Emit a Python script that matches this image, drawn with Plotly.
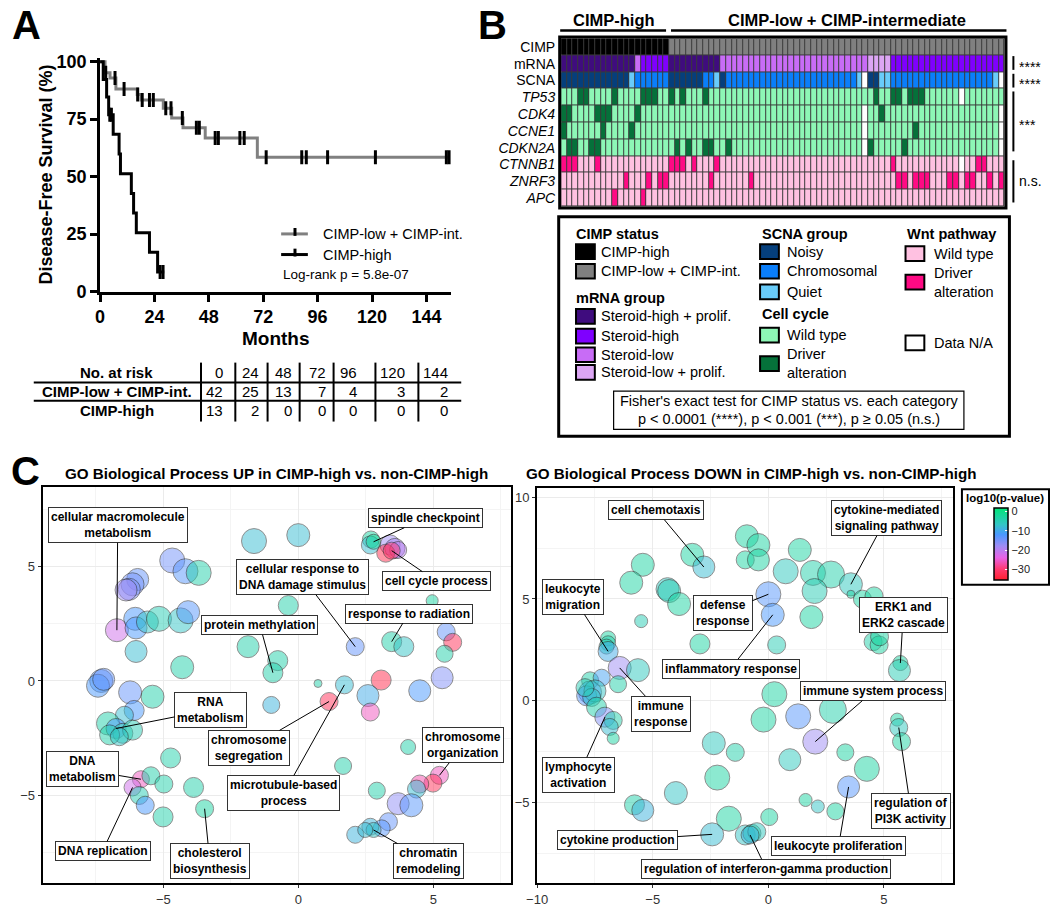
import plotly.graph_objects as go

W, H = 1050, 909
FONT = "Arial, Liberation Sans, sans-serif"


def fx(x):
    return x / W


def fy(y):
    return 1 - y / H


# ---------------- A: Kaplan-Meier data ----------------
low_t = [0, 2.2, 4.4, 7.0, 16.4, 18.1, 27.9, 31.6, 36.6, 46.4, 69.4, 154]
low_s = [100, 95.2, 92.9, 88.1, 85.7, 83.3, 79.8, 75.5, 71.3, 66.8, 58.4, 58.4]
low_cens = [2.5, 6.6, 10.6, 16.6, 18.6, 21.8, 23.5, 29.0, 31.3, 36.3, 42.5, 43.8,
            50.8, 52.2, 61.7, 63.6, 73.3, 89.0, 91.0, 100.4, 121.5, 152.8, 154.0]

high_t = [0, 1.4, 2.9, 3.8, 5.8, 8.4, 9.0, 13.8, 14.8, 16.0, 21.8, 25.4, 28.3]
high_s = [100, 92.3, 84.6, 76.9, 68.4, 59.8, 51.3, 42.7, 34.2, 25.6, 17.1, 8.5, 8.5]
high_cens = [4.3, 5.0, 26.5, 27.8]

risk_times = [0, 24, 48, 72, 96, 120, 144]
risk_low = [42, 25, 13, 7, 4, 3, 2]
risk_high = [13, 2, 0, 0, 0, 0, 0]

# ---------------- B: oncoprint rows (78 samples) ----------------
row_names = ["CIMP", "mRNA", "SCNA", "<i>TP53</i>", "<i>CDK4</i>", "<i>CCNE1</i>",
             "<i>CDKN2A</i>", "<i>CTNNB1</i>", "<i>ZNRF3</i>", "<i>APC</i>"]
cimp_row = ("HHHHHHHHHH" "HHHHHHHHHL" "LLLLLLLLLL" "LLLLLLLLLL"
            "LLLLLLLLLL" "LLLLLLLLLL" "LLLLLLLLLL" "LLLLLLLL")
mrna_row = ("PPPPPPPPPP" "PPPLHHHHHP" "PPPPPPPPLL" "LLLLLLLLLL"
            "LLLLLLLLLL" "LLLLQQQQHH" "HHHHHHHHHH" "HHHHHHHH")
scna_row = ("NNNNNNNNNN" "NNQCCCCCCN" "NNNNNCCQNC" "CCCCCCCCCC"
            "CCCCCCCCCC" "CCQXNNQQCC" "CCCCCCCCCC" "CCCCCCQX")
tp53_row = ("WWWDDWWWWD" "WWWWDDDWWD" "WDWWWDWWWW" "WWWWWWWWWW"
            "WWWWWWWWWW" "WWWWWDWWDD" "WDDDWWWWWW" "XWWWWWWW")
cdk4_row = ("DDWWWWDDDW" "WWWDWWWWWW" "WWWWWWWWWW" "WWWWWWWWWW"
            "WWWWWWWWWW" "WWWXWWDWWW" "WWWWWWWWWW" "WWWWWWWX")
ccne1_row = ("DWWWWWWDWW" "WWDWWWWWWW" "WWWWWWWWWW" "WWWWWWWWWW"
             "WWWWWWWWWW" "WWWXWWWWWW" "WWDWWWWWWW" "WWWWWWWX")
cdkn2a_row = ("WDDWWDDWWW" "WWWWWWWWWW" "DWDWWDDWWD" "WWWWWWWWWW"
              "WWWWWWWWWW" "WWWXDWWWWW" "DWWWWWWWWW" "WWWWWWWX")
ctnnb1_row = ("DDDWWWDWWW" "WWWWWWWWWD" "DDWDWWWDWW" "WWWWWWWWWW"
              "WWWWWWWWWW" "WWWWWWWWDW" "WWWWWWWWWW" "XWWDDWWW")
znrf3_row = ("WWWWWWWWWW" "WDWWWDWDDW" "WWWWWWDWWW" "WWWDWWWWWW"
             "WWWWWWWWWW" "WWWWWWWWWD" "DWDDDWWWDD" "WDDWWDWD")
apc_row = ("WWWWWWWWWD" "WWWWDWWWWW" "WWWWWWWWWW" "WWWWWWWWWW"
           "WWWWWWWWWW" "WWWWWWWWWW" "WWWWWWWWWW" "WWWWWWWW")

cimp_col = {"H": "#000000", "L": "#808080"}
mrna_col = {"P": "#3F0C7E", "H": "#7F00FF", "L": "#C86CF6", "Q": "#DCA6F4"}
scna_col = {"N": "#053F7C", "C": "#0A7EFA", "Q": "#69CCFA", "X": "#FFFFFF"}
cc_col = {"W": "#8DF7B6", "D": "#05713A", "X": "#FFFFFF"}
wnt_col = {"W": "#FFC1E1", "D": "#FF0A84", "X": "#FFFFFF"}

rows = [(cimp_row, cimp_col), (mrna_row, mrna_col), (scna_row, scna_col),
        (tp53_row, cc_col), (cdk4_row, cc_col), (ccne1_row, cc_col),
        (cdkn2a_row, cc_col), (ctnnb1_row, wnt_col), (znrf3_row, wnt_col),
        (apc_row, wnt_col)]

# legend groups of panel B
leg_cimp = [("CIMP-high", "#000000"), ("CIMP-low + CIMP-int.", "#808080")]
leg_mrna = [("Steroid-high + prolif.", "#3F0C7E"), ("Steroid-high", "#7F00FF"),
            ("Steroid-low", "#C86CF6"), ("Steroid-low + prolif.", "#DCA6F4")]
leg_scna = [("Noisy", "#053F7C"), ("Chromosomal", "#0A7EFA"), ("Quiet", "#69CCFA")]
leg_cc = [("Wild type", "#8DF7B6"), ("Driver<br>alteration", "#05713A")]
leg_wnt = [("Wild type", "#FFC1E1"), ("Driver<br>alteration", "#FF0A84")]

# ---------------- C: GO term bubbles ----------------
up_x = [-1.64, -4.67, -4.18, -3.69, -5.95, -6.14, -6.26, -6.38, -6.72, -6.04,
        -6.01, -5.59, -5.16, -4.36, -4.08, -6.01, -4.30, -1.86, -1.00, -7.30,
        -7.42, -7.21, -6.23, -5.40, -6.08, -6.44, -7.05, -6.75, -6.50, -6.99,
        -6.14, -6.63, -4.73, -5.83, -5.46, -4.98, -6.14, -5.89, -5.67, -5.01,
        -3.88, -3.47, 0.00, -0.37, -0.76, -0.94, 2.69, 2.67, 2.79, 3.40,
        3.58, 3.70, 3.24, 3.46, 4.96, 2.11, 3.46, 3.91, 5.48, 5.72,
        5.42, 5.33, 4.50, 3.07, 2.58, 2.67, 1.71, 0.73, 1.14, 4.07,
        1.66, 2.91, 5.23, 4.99, 4.50, 4.38, 3.70, 4.19, 3.34, 3.09,
        2.67, 2.11, 2.79, 2.48]
up_y = [6.12, 5.27, 4.80, 4.73, 4.44, 4.23, 4.01, 3.98, 2.22, 2.72,
        2.32, 2.58, 2.72, 2.65, 3.01, 1.29, 0.60, 1.50, -1.05, 0.00,
        -0.21, 0.07, -0.50, -0.69, -1.29, -1.50, -1.86, -2.08, -2.29, -2.36,
        -2.15, -2.44, -3.37, -4.30, -4.15, -4.51, -4.66, -5.01, -5.44, -5.95,
        -4.66, -5.59, 6.38, 3.30, 0.89, 0.36, 6.19, 5.95, 6.09, 5.95,
        5.80, 5.73, 5.59, 5.70, 3.51, 1.50, 1.72, 1.50, 2.15, 1.69,
        1.19, 0.14, -0.43, 0.04, -0.64, -1.36, -0.17, -0.11, -0.90, -2.89,
        -3.72, -4.80, -4.13, -4.47, -4.51, -4.73, -5.37, -5.44, -6.16, -6.45,
        -6.38, -6.73, -6.52, -6.52]
up_size = [25, 25, 25, 25, 22, 23, 22, 22, 23, 23,
           22, 22, 25, 25, 23, 22, 23, 22, 17, 23,
           23, 22, 23, 23, 20, 18, 23, 20, 20, 20,
           20, 18, 20, 17, 18, 18, 17, 18, 18, 20,
           20, 18, 23, 20, 20, 20, 17, 18, 15, 20,
           20, 17, 18, 17, 12, 18, 20, 20, 18, 18,
           17, 22, 22, 20, 22, 18, 18, 8, 18, 15,
           17, 17, 18, 18, 18, 18, 22, 23, 18, 17,
           17, 17, 15, 15]
up_logp = [-8, -15, -13, -4, -14, -15, -16, -18, -22, -12,
           -12, -7, -5, -7, -13, -8, -4, -4, -9, -13,
           -12, -14, -14, -4, -12, -8, -4, -12, -5, -4,
           -5, -7, -4, -26, -4, -4, -22, -5, -12, -4,
           -4, -3, -8, -4, -4, -4, -3, -8, -2, -18,
           -19, -20, -33, -30, -3, -14, -4, -7, -14, -32,
           -4, -16, -12, -33, -10, -26, -8, -4, -32, -4,
           -4, -4, -26, -32, -27, -8, -17, -13, -14, -13,
           -9, -9, -7, -8]
up_terms = [("cellular macromolecule<br>metabolism", 8, -6.69, 6.81),
            ("cellular response to<br>DNA damage stimulus", 55, 0.16, 4.54),
            ("spindle checkpoint", 48, 4.70, 7.12),
            ("cell cycle process", 53, 5.11, 4.37),
            ("protein methylation", 45, -1.42, 2.44),
            ("response to radiation", 56, 4.09, 2.95),
            ("RNA<br>metabolism", 27, -3.24, -1.26),
            ("chromosome<br>segregation", 68, -1.81, -2.93),
            ("microtubule-based<br>process", 66, -0.53, -4.91),
            ("chromosome<br>organization", 72, 6.10, -2.81),
            ("chromatin<br>remodeling", 82, 4.82, -7.88),
            ("DNA<br>metabolism", 33, -7.98, -3.87),
            ("DNA replication", 36, -7.25, -7.44),
            ("cholesterol<br>biosynthesis", 41, -3.28, -7.88)]

dn_x = [-3.29, -2.79, -5.43, -5.93, -4.36, -4.29, -3.86, -5.50, -2.96, -6.93,
        -6.93, -7.00, -6.93, -6.43, -5.64, -6.50, -7.71, -7.21, -7.71, -7.86,
        -7.50, -7.64, -7.43, -7.07, -6.71, -6.86, -6.71, -7.93, -0.93, -0.43,
        -1.00, -0.43, 0.75, 0.00, 0.19, 0.36, 0.26, -0.21, -2.36, -1.43,
        -2.21, -4.00, -5.79, -5.43, -1.71, -2.43, 0.04, -1.00, -0.71, -0.50,
        -0.79, 0.93, 1.36, 1.93, 2.71, 2.00, 1.86, 3.57, 3.57, 4.07,
        4.57, 4.53, 4.79, 4.81, 5.71, 5.67, 2.79, 1.29, 2.03, 3.33,
        4.26, 3.47, 1.61, 2.14, 2.90, 5.57, 5.64, 5.76]
dn_y = [7.17, 6.57, 6.68, 5.80, 5.48, 5.39, 4.75, 3.91, 2.79, 3.06,
        2.82, 2.66, 2.42, 1.61, 1.50, 0.81, 1.00, 1.13, 0.40, 0.24,
        0.48, 0.16, -0.32, -0.81, -0.97, -1.29, -1.85, 0.64, 8.08, 7.65,
        6.92, 6.92, 6.36, 5.23, 4.22, 2.74, 0.32, -0.93, -2.09, -2.54,
        -3.78, -4.54, -5.12, -5.39, -5.80, -6.57, -5.72, -6.60, -6.52, -6.44,
        -6.60, -2.90, 7.41, 6.28, 6.20, 5.39, 4.11, 5.72, 5.23, 4.99,
        5.15, 2.90, 2.74, 3.14, 1.85, 1.48, -0.45, -0.77, -2.01, -2.54,
        -3.35, -4.24, -4.88, -5.20, -5.44, -0.93, -1.32, -2.01]
dn_size = [23, 22, 23, 23, 23, 23, 23, 13, 20, 15,
           15, 15, 20, 23, 23, 17, 17, 17, 23, 20,
           22, 18, 20, 20, 18, 17, 12, 18, 23, 23,
           18, 22, 25, 25, 23, 18, 25, 25, 23, 18,
           25, 23, 20, 22, 25, 23, 17, 20, 18, 18,
           18, 22, 23, 25, 27, 25, 23, 23, 8, 18,
           18, 18, 18, 18, 15, 22, 27, 25, 25, 17,
           25, 22, 13, 13, 17, 13, 18, 18]
dn_logp = [-3, -8, -3, -3, -6, -5, -3, -5, -3, -3,
           -4, -5, -10, -18, -6, -4, -4, -11, -12, -13,
           -7, -7, -4, -16, -4, -8, -3, -5, -3, -3,
           -3, -3, -6, -13, -12, -5, -3, -3, -6, -4,
           -3, -7, -4, -9, -3, -8, -3, -7, -4, -6,
           -9, -6, -3, -4, -4, -5, -3, -6, -3, -3,
           -3, -4, -3, -3, -3, -5, -4, -13, -18, -3,
           -3, -13, -3, -7, -3, -3, -6, -3]
dn_terms = [("cell chemotaxis", 1, -4.84, 9.36),
            ("cytokine-mediated<br>signaling pathway", 57, 5.10, 8.97),
            ("leukocyte<br>migration", 12, -8.44, 5.10),
            ("defense<br>response", 33, -1.97, 4.33),
            ("inflammatory response", 34, -1.63, 1.58),
            ("ERK1 and<br>ERK2 cascade", 64, 5.83, 4.19),
            ("immune<br>response", 13, -4.63, -0.64),
            ("immune system process", 68, 4.54, 0.47),
            ("lymphocyte<br>activation", 23, -8.19, -3.64),
            ("regulation of<br>PI3K activity", 76, 6.17, -5.42),
            ("cytokine production", 45, -6.52, -6.87),
            ("leukocyte proliferation", 71, 3.04, -7.12),
            ("regulation of interferon-gamma production", 50, -0.09, -8.27)]

pval_scale = [[0.0, "#FF2030"], [0.15, "#FF3A70"], [0.31, "#E862E6"],
              [0.47, "#A08CF5"], [0.63, "#4A98FF"], [0.77, "#33C6C6"],
              [1.0, "#00E676"]]

fig = go.Figure()

# ---- A traces ----
fig.add_trace(go.Scatter(x=low_t, y=low_s, mode="lines", line=dict(color="#808080", width=3, shape="hv"),
                         xaxis="x", yaxis="y", showlegend=False, hoverinfo="skip"))
fig.add_trace(go.Scatter(x=high_t, y=high_s, mode="lines", line=dict(color="black", width=3, shape="hv"),
                         xaxis="x", yaxis="y", showlegend=False, hoverinfo="skip"))


def surv_at(ts, ss, t):
    s = ss[0]
    for ti, si in zip(ts, ss):
        if ti <= t:
            s = si
    return s


for cens, ts, ss in [(low_cens, low_t, low_s), (high_cens, high_t, high_s)]:
    fig.add_trace(go.Scatter(x=cens, y=[surv_at(ts, ss, c) for c in cens], mode="markers",
                             marker=dict(symbol="line-ns", size=10, line=dict(width=3, color="black")),
                             xaxis="x", yaxis="y", showlegend=False, hoverinfo="skip"))

# ---- B heatmap ----
colors = []
z = []
for r, cmap in rows:
    zr = []
    for ch in r:
        c = cmap[ch]
        if c not in colors:
            colors.append(c)
        zr.append(colors.index(c))
    z.append(zr)
n = len(colors)
cscale = []
for i, c in enumerate(colors):
    cscale += [[i / n, c], [(i + 1) / n, c]]
fig.add_trace(go.Heatmap(z=z, x=list(range(len(cimp_row))), y=list(range(len(rows))),
                         colorscale=cscale, zmin=-0.5, zmax=n - 0.5, showscale=False,
                         xgap=1, ygap=1, xaxis="x2", yaxis="y2", hoverinfo="skip"))

# ---- C bubbles ----
for xs, ys, ss, ps, ax, ay in [(up_x, up_y, up_size, up_logp, "x3", "y3"),
                               (dn_x, dn_y, dn_size, dn_logp, "x4", "y4")]:
    fig.add_trace(go.Scatter(x=xs, y=ys, mode="markers", xaxis=ax, yaxis=ay, showlegend=False,
                             hoverinfo="skip",
                             marker=dict(size=ss, color=ps, coloraxis="coloraxis", opacity=0.5,
                                         line=dict(color="#222222", width=1))))

shapes = []
ann = []


def text(x, y, t, size=14, bold=False, anchor="center", color="black", align="center"):
    ann.append(dict(x=fx(x), y=fy(y), xref="paper", yref="paper", text=t, showarrow=False,
                    xanchor=anchor, yanchor="middle", align=align,
                    font=dict(size=size, color=color, family=FONT,
                              weight="bold" if bold else "normal")))


def line(x0, y0, x1, y1, w=2, color="black"):
    shapes.append(dict(type="line", xref="paper", yref="paper", x0=fx(x0), y0=fy(y0),
                       x1=fx(x1), y1=fy(y1), line=dict(color=color, width=w)))


def rect(x0, y0, x1, y1, w=2, fill="rgba(0,0,0,0)", color="black", layer="above"):
    shapes.append(dict(type="rect", xref="paper", yref="paper", x0=fx(x0), y0=fy(y0),
                       x1=fx(x1), y1=fy(y1), line=dict(color=color, width=w),
                       fillcolor=fill, layer=layer))


# panel letters
text(16, 19, "A", 40, True)
text(487, 19, "B", 40, True)
text(15, 473, "C", 40, True)

# ---- A decorations ----
text(35, 172, "Disease-Free Survival (%)", 18, True)
ann[-1]["textangle"] = -90
text(268, 338, "Months", 19, True)
line(273, 232, 300, 232, 3, "#808080")
line(287, 226, 287, 234, 3)
line(273, 253, 300, 253, 3)
line(287, 247, 287, 255, 3)
text(313, 232, "CIMP-low + CIMP-int.", 14.5, anchor="left")
text(313, 253, "CIMP-high", 14.5, anchor="left")
text(273, 273, "Log-rank p = 5.8e-07", 13.5, anchor="left")

# risk table
sep_x = [192, 226.7, 259.3, 291.7, 326, 368.3, 411.7]
right_x = [216, 253, 286, 320, 352, 400, 444]
for sx in sep_x:
    line(sx, 363, sx, 423, 2)
line(23, 383.3, 455, 383.3, 2)
line(23, 401.7, 455, 401.7, 2)
text(107, 373, "No. at risk", 15, True)
text(107, 392, "CIMP-low + CIMP-int.", 15, True)
text(107, 412, "CIMP-high", 15, True)
for i in range(len(risk_times)):
    text(right_x[i], 373, str(risk_times[i]), 15, anchor="right")
    text(right_x[i], 392, str(risk_low[i]), 15, anchor="right")
    text(right_x[i], 412, str(risk_high[i]), 15, anchor="right")

# ---- B decorations ----
rect(556, 33, 1004, 204, 0, fill="#3a3a3a", layer="below")
rect(554.5, 31.5, 1005.5, 205.5, 3)
text(609, 14, "CIMP-high", 16.5, True)
text(845, 14, "CIMP-low + CIMP-intermediate", 16.5, True)
line(555, 25, 662, 25, 2.5)
line(667, 25, 1006, 25, 2.5)
line(1013, 51, 1013, 65, 2)
line(1013, 69, 1013, 83, 2)
line(1013, 87, 1013, 148, 2)
line(1013, 157, 1013, 200, 2)
text(1017, 62, "****", 14, anchor="left")
text(1017, 79, "****", 14, anchor="left")
text(1017, 121, "***", 14, anchor="left")
text(1017, 178, "n.s.", 14, anchor="left")

# legend box
rect(553.5, 214.5, 1009, 438, 3)


def swatch(x, y, c):
    rect(x, y - 7.5, x + 19, y + 7.5, 2, fill=c)


text(569, 232, "CIMP status", 14.5, True, "left")
for (lab, c), yy in zip(leg_cimp, [250, 270]):
    swatch(571, yy, c)
    text(594, yy, lab, 14.5, anchor="left")
text(569, 297, "mRNA group", 14.5, True, "left")
for (lab, c), yy in zip(leg_mrna, [316, 336, 355, 373]):
    swatch(571, yy, c)
    text(594, yy, lab, 14.5, anchor="left")
text(757, 232, "SCNA group", 14.5, True, "left")
for (lab, c), yy in zip(leg_scna, [250, 270, 291]):
    swatch(757, yy, c)
    text(782, yy, lab, 14.5, anchor="left")
text(757, 314, "Cell cycle", 14.5, True, "left")
for (lab, c), yy in zip(leg_cc, [335, 364]):
    swatch(757, yy, c)
    text(782, yy, lab, 14.5, anchor="left", align="left")
text(903, 232, "Wnt pathway", 14.5, True, "left")
for (lab, c), yy in zip(leg_wnt, [252, 281]):
    swatch(904, yy, c)
    text(931, yy, lab, 14.5, anchor="left", align="left")
swatch(904, 343, "#FFFFFF")
text(931, 343, "Data N/A", 14.5, anchor="left")
rect(609, 392, 963, 431, 1.2)
text(786, 402, "Fisher's exact test for CIMP status vs. each category", 14.5)
text(786, 420, "p &lt; 0.0001 (****), p &lt; 0.001 (***), p ≥ 0.05 (n.s.)", 14.5)

# ---- C decorations ----
text(268, 476, "GO Biological Process UP in CIMP-high vs. non-CIMP-high", 15.2, True)
text(748, 476, "GO Biological Process DOWN in CIMP-high vs. non-CIMP-high", 15.2, True)
rect(961, 492, 1049, 589, 2)
text(1005, 501, "log10(p-value)", 11.5, True)

for terms, xs, ys, ax, ay in [(up_terms, up_x, up_y, "x3", "y3"), (dn_terms, dn_x, dn_y, "x4", "y4")]:
    for lab, idx, lx, ly in terms:
        ann.append(dict(x=xs[idx], y=ys[idx], xref=ax, yref=ay, ax=lx, ay=ly, axref=ax, ayref=ay,
                        text=lab, showarrow=True, arrowhead=0, arrowwidth=1, arrowcolor="black",
                        bordercolor="#333333", borderwidth=1, borderpad=2, bgcolor="white",
                        font=dict(size=12, color="black", family=FONT, weight="bold")))

km_font = dict(size=18, color="black", family=FONT, weight="bold")
go_axis = dict(showline=True, mirror=True, linewidth=2, linecolor="black", showgrid=True,
               gridcolor="#EBEBEB", gridwidth=1.2, zeroline=False, ticks="outside", ticklen=3,
               tickcolor="#333333", tickfont=dict(size=13, color="#333333", family=FONT),
               minor=dict(dtick=2.5, showgrid=True, gridcolor="#F4F4F4", gridwidth=0.6))

fig.update_layout(
    width=W, height=H, margin=dict(l=0, r=0, t=0, b=0),
    paper_bgcolor="white", plot_bgcolor="white", showlegend=False,
    font=dict(family=FONT, color="black"),
    xaxis=dict(domain=[fx(90), fx(445)], range=[0, 155], anchor="y", tickvals=risk_times,
               ticks="outside", ticklen=7, tickwidth=3, tickcolor="black", showline=True,
               linewidth=3, linecolor="black", showgrid=False, zeroline=False, tickfont=km_font),
    yaxis=dict(domain=[fy(290.7), fy(53.2)], range=[0, 101.5], anchor="x",
               tickvals=[0, 25, 50, 75, 100], ticks="outside", ticklen=7, tickwidth=3,
               tickcolor="black", showline=True, linewidth=3, linecolor="black",
               showgrid=False, zeroline=False, tickfont=km_font),
    xaxis2=dict(domain=[fx(556), fx(1004)], range=[-0.5, len(cimp_row) - 0.5], anchor="y2",
                visible=False),
    yaxis2=dict(domain=[fy(204), fy(33)], range=[len(rows) - 0.5, -0.5], anchor="x2",
                tickvals=list(range(len(rows))), ticktext=row_names, ticks="", showgrid=False,
                zeroline=False, showline=False, ticklabelstandoff=5,
                tickfont=dict(size=14, color="black", family=FONT)),
    xaxis3=dict(domain=[fx(32), fx(505)], range=[-9.47, 7.87], anchor="y3", dtick=5, **go_axis),
    yaxis3=dict(domain=[fy(892.7), fy(489.3)], range=[-8.84, 8.5], anchor="x3", dtick=5, **go_axis),
    xaxis4=dict(domain=[fx(531.7), fx(952.3)], range=[-10, 8], anchor="y4", dtick=5, **go_axis),
    yaxis4=dict(domain=[fy(892.7), fy(490.7)], range=[-8.96, 10.45], anchor="x4", dtick=5, **go_axis),
    coloraxis=dict(colorscale=pval_scale, cmin=-35.6, cmax=1.7,
                   colorbar=dict(x=fx(993), xanchor="left", y=fy(548), yanchor="middle",
                                 len=73 / H, lenmode="fraction", thickness=14, xpad=0, ypad=0,
                                 outlinewidth=1.5, outlinecolor="black",
                                 tickvals=[0, -10, -20, -30], ticks="inside", ticklen=3,
                                 tickcolor="white", tickfont=dict(size=11, color="#222222", family=FONT))),
    shapes=shapes, annotations=ann,
)

# drop the default page margin so the figure sits at the window's top-left corner
fig.write_html("out.html", config={"displayModeBar": False},
               post_script="document.body.style.margin='0';")
